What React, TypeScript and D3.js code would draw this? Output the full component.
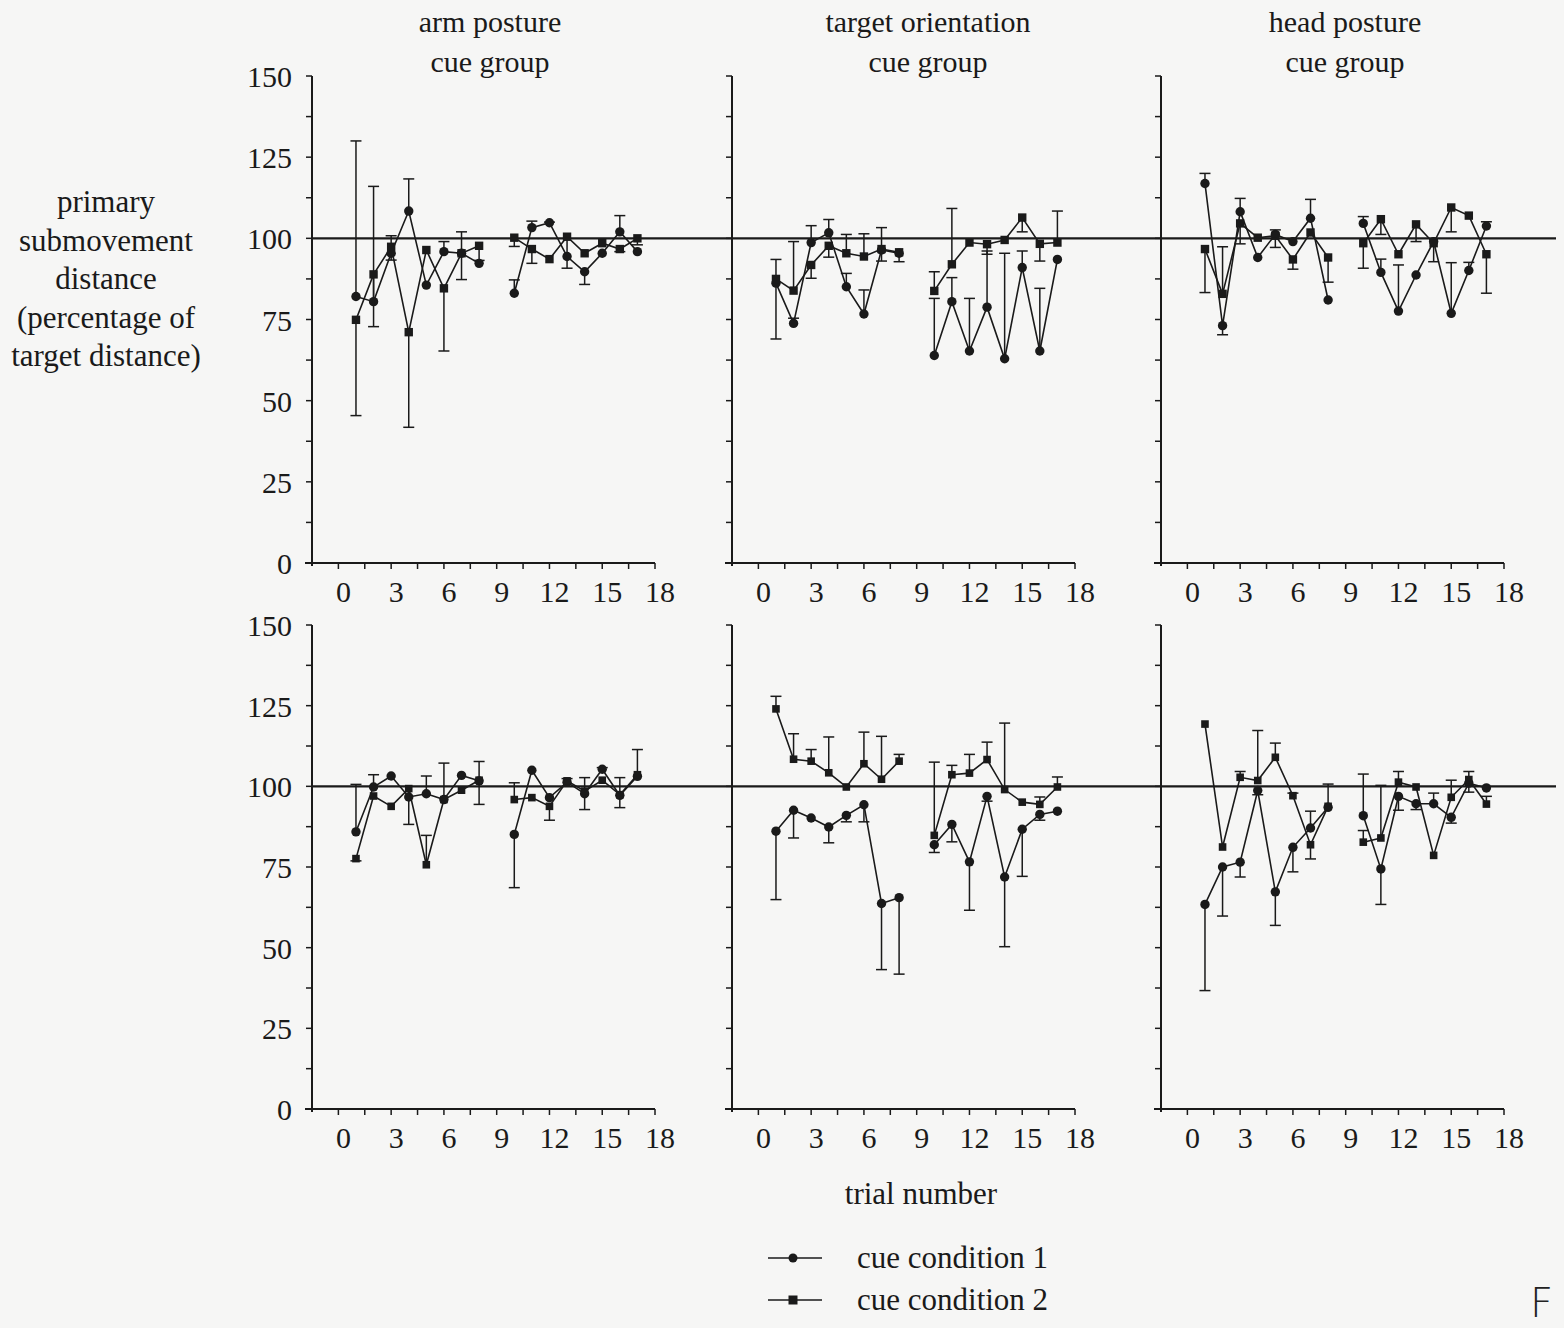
import React from 'react'
import * as d3 from 'd3'

// trial 9 is missing in every panel (null)
const trials = [1, 2, 3, 4, 5, 6, 7, 8, 9, 10, 11, 12, 13, 14, 15, 16, 17]
const xTicks = [0, 3, 6, 9, 12, 15, 18]
const yTicks = [0, 25, 50, 75, 100, 125, 150]
const groupTitles = [['arm posture', 'cue group'], ['target orientation', 'cue group'], ['head posture', 'cue group']]
const yLabelLines = ['primary', 'submovement', 'distance', '(percentage of', 'target distance)']
const legendLabels = ['cue condition 1', 'cue condition 2']

// top row, arm posture
const armTopC1 = [82.1, 80.5, 95.4, 108.4, 85.6, 95.9, 95.4, 92.3, null, 83.1, 103.3, 104.8, 94.4, 89.7, 95.4, 102, 95.9]
const armTopC2 = [74.9, 88.9, 97.4, 71.1, 96.4, 84.6, 95.4, 97.7, null, 100.2, 96.7, 93.6, 100.5, 95.4, 98.5, 96.7, 100]
const armTopE1 = [130, 116, 100.8, 118.3, null, 99, 102, null, null, 87.2, 105.3, 105, null, 85.8, null, 107, null]
const armTopE2 = [45.4, 72.8, 93.3, 41.8, null, 65.3, 87.3, 93.2, null, 97.5, 92.3, null, 90.8, null, null, 95.9, 98]
// top row, target orientation
const tarTopC1 = [86.2, 73.8, 98.7, 101.7, 85.1, 76.7, 96.4, 95.4, null, 63.9, 80.5, 65.3, 78.8, 62.9, 91, 65.3, 93.5]
const tarTopC2 = [87.5, 83.9, 91.8, 97.7, 95.4, 94.4, 96.7, 95.7, null, 83.8, 92, 98.7, 98.2, 99.5, 106.4, 98.3, 98.7]
const tarTopE1 = [69, 75.4, 103.9, 105.8, 89.2, 84.1, 103.3, null, null, 81.5, 87.9, 81.5, 96.1, 95.4, 96.1, 84.6, null]
const tarTopE2 = [93.5, 99, 87.7, 94.2, 101.2, 101.4, 93, 92.8, null, 89.7, 109.2, null, 95.1, null, 102, 93, 108.4]
// top row, head posture
const headTopC1 = [116.9, 73.1, 108.2, 94.1, 101.2, 99, 106.2, 81, null, 104.6, 89.5, 77.6, 88.7, 99, 76.9, 90.1, 103.8]
const headTopC2 = [96.7, 82.9, 104.6, 100.2, 100.8, 93.5, 101.8, 94.1, null, 98.5, 105.9, 95.1, 104.3, 98.5, 109.5, 107, 95.1]
const headTopE1 = [120, 70.3, 112.3, null, 97.2, null, 112, null, null, 106.7, 93.6, 91.8, null, null, 92.5, 92.6, 105.1]
const headTopE2 = [83.3, 97.4, 98.3, null, 102.6, 90.5, null, 86.5, null, 90.8, 101.2, null, 99, 92.8, 102, null, 83.1]
// bottom row, arm posture
const armBotC1 = [85.9, 99.8, 103.2, 96.7, 97.7, 95.9, 103.4, 101.7, null, 85.1, 105, 96.5, 101.3, 97.7, 105.3, 97.2, 103.1]
const armBotC2 = [77.6, 97, 93.8, 99.3, 75.7, 95.9, 98.8, 101.9, null, 95.9, 96.5, 93.8, 101.7, 98.5, 101.9, 97.4, 103.6]
const armBotE1 = [100.6, 103.6, null, null, 103.2, 107.2, null, 107.7, null, 68.6, null, null, 102.4, 102.7, 105.8, 102.7, null]
const armBotE2 = [76.9, null, null, 88.2, 84.8, null, null, 94.4, null, 101.1, null, 89.5, null, 92.8, null, 93.4, 111.4]
// bottom row, target orientation
const tarBotC1 = [86.1, 92.6, 90.2, 87.4, 91, 94.3, 63.7, 65.5, null, 81.9, 88.2, 76.6, 96.9, 71.9, 86.7, 91.3, 92.3]
const tarBotC2 = [124, 108.4, 107.8, 104.2, 99.8, 107, 102.2, 107.8, null, 84.8, 103.6, 104.1, 108.3, 99, 95.1, 94.4, 99.8]
const tarBotE1 = [64.9, 84, null, 82.5, 89, 89, 43.2, 41.8, null, 79.5, 82.8, 61.6, 95.4, 50.3, 72.1, 89.5, null]
const tarBotE2 = [127.9, 116.3, 111.4, 115.3, null, 116.8, 115.5, 109.9, null, 107.5, 106.5, 109.9, 113.7, 119.6, null, 96.7, 102.9]
// bottom row, head posture
const headBotC1 = [63.4, 75, 76.5, 98.7, 67.3, 81.1, 87.1, 93.5, null, 90.9, 74.4, 96.9, 94.6, 94.6, 90.4, 101, 99.5]
const headBotC2 = [119.3, 81.2, 102.8, 101.8, 109, 97.1, 81.9, 93.8, null, 82.7, 84, 101.3, 99.8, 78.6, 96.6, 102.1, 94.5]
const headBotE1 = [36.7, 59.8, 71.9, 97.4, 56.9, 73.5, 92.3, null, null, 103.8, 63.4, 92.6, 92.8, 97.9, 88.6, 98.2, null]
const headBotE2 = [null, null, 104.6, 117.3, 113.4, 97.9, 77.5, 100.7, null, 86.3, 100.3, 104.6, null, null, 101.9, 104.6, 96.9]

type Panel = { c1: (number | null)[]; c2: (number | null)[]; e1: (number | null)[]; e2: (number | null)[] }
const rows: Panel[][] = [
  [
    { c1: armTopC1, c2: armTopC2, e1: armTopE1, e2: armTopE2 },
    { c1: tarTopC1, c2: tarTopC2, e1: tarTopE1, e2: tarTopE2 },
    { c1: headTopC1, c2: headTopC2, e1: headTopE1, e2: headTopE2 },
  ],
  [
    { c1: armBotC1, c2: armBotC2, e1: armBotE1, e2: armBotE2 },
    { c1: tarBotC1, c2: tarBotC2, e1: tarBotE1, e2: tarBotE2 },
    { c1: headBotC1, c2: headBotC2, e1: headBotE1, e2: headBotE2 },
  ],
]

const W = 1564, H = 1328
const panelLeft = [312, 732, 1161]
const titleX = [490, 928, 1345]
const panelWidth = 343
const rowY = [[563, 76], [1109, 625]] // [y of 0, y of 150]
const font = '"Liberation Serif", "Times New Roman", serif'
const ink = '#1a1a1a'

const Series = ({ vals, errs, x, y, shape, size }: any) => {
  const line = d3.line<number | null>()
    .defined(d => d != null)
    .x((_, i) => x(trials[i]))
    .y(d => y(d as number))
  return (
    <g>
      <path d={line(vals) || ''} fill="none" stroke={ink} strokeWidth={1.6} />
      {errs.map((e: number | null, i: number) => {
        const v = vals[i]
        if (e == null || v == null) return null
        const cx = x(trials[i])
        return (
          <g key={'e' + i} stroke={ink} strokeWidth={1.5}>
            <line x1={cx} x2={cx} y1={y(v)} y2={y(e)} />
            <line x1={cx - 5.5} x2={cx + 5.5} y1={y(e)} y2={y(e)} />
          </g>
        )
      })}
      {vals.map((v: number | null, i: number) => {
        if (v == null) return null
        const cx = x(trials[i]), cy = y(v)
        return shape === 'circle'
          ? <circle key={i} cx={cx} cy={cy} r={size} fill={ink} />
          : <rect key={i} x={cx - size} y={cy - size} width={size * 2} height={size * 2} fill={ink} />
      })}
    </g>
  )
}

const App = () => {
  return (
    <svg width={W} height={H} style={{ position: 'absolute', left: 0, top: 0, display: 'block' }}
      fontFamily={font}>
      <rect width={W} height={H} fill="#f6f6f5" />
      {groupTitles.map((t, i) => (
        <g key={i} fill={ink} fontSize={30} textAnchor="middle">
          <text x={titleX[i]} y={32}>{t[0]}</text>
          <text x={titleX[i]} y={72}>{t[1]}</text>
        </g>
      ))}
      {yLabelLines.map((t, i) => (
        <text key={i} x={106} y={212 + i * 38.5} textAnchor="middle" fontSize={31} fill={ink}>{t}</text>
      ))}
      {rows.map((row, r) => {
        const y = d3.scaleLinear().domain([0, 150]).range(rowY[r])
        const yMinor = d3.range(0, 150.1, 12.5)
        return (
          <g key={r}>
            {row.map((p, c) => {
              const x = d3.scaleLinear().domain([-1.5, 18]).range([panelLeft[c], panelLeft[c] + panelWidth])
              const xMinor = d3.range(0, 18.1, 1.5)
              return (
                <g key={c}>
                  <line x1={x(-1.5)} x2={x(-1.5)} y1={y(0) + 3} y2={y(150)} stroke={ink} strokeWidth={2} />
                  <line x1={x(-1.5) - 7} x2={x(18)} y1={y(0)} y2={y(0)} stroke={ink} strokeWidth={2} />
                  {yMinor.map(v => (
                    <line key={v} x1={x(-1.5) - 6} x2={x(-1.5)} y1={y(v)} y2={y(v)} stroke={ink} strokeWidth={1.5} />
                  ))}
                  {xMinor.map(v => (
                    <line key={v} x1={x(v)} x2={x(v)} y1={y(0)} y2={y(0) + 6} stroke={ink} strokeWidth={1.5} />
                  ))}
                  {xTicks.map(v => (
                    <text key={v} x={x(v) + 5} y={y(0) + 39} textAnchor="middle" fontSize={30} fill={ink}>{v}</text>
                  ))}
                  {c === 0 && yTicks.map(v => (
                    <text key={v} x={292} y={y(v) + 11} textAnchor="end" fontSize={30} fill={ink}>{v}</text>
                  ))}
                  <Series vals={p.c1} errs={p.e1} x={x} y={y} shape="circle" size={4.7} />
                  <Series vals={p.c2} errs={p.e2} x={x} y={y} shape="square" size={r === 0 ? 4.2 : 3.8} />
                </g>
              )
            })}
            <line x1={panelLeft[0]} x2={1556} y1={y(100)} y2={y(100)} stroke={ink} strokeWidth={2.4} />
          </g>
        )
      })}
      <text x={921} y={1204} textAnchor="middle" fontSize={31} fill={ink}>trial number</text>
      {legendLabels.map((t, i) => (
        <g key={t}>
          <line x1={768} x2={822} y1={1258 + i * 42} y2={1258 + i * 42} stroke={ink} strokeWidth={1.6} />
          {i === 0
            ? <circle cx={793} cy={1258} r={4.5} fill={ink} />
            : <rect x={788.5} y={1295.5} width={9} height={9} fill={ink} />}
          <text x={857} y={1268 + i * 42} fontSize={31} fill={ink}>{t}</text>
        </g>
      ))}
      <text x={1530} y={1317} fontSize={40} fontFamily='"DejaVu Sans", sans-serif' fontWeight={200} fill="#222">F</text>
    </svg>
  )
}

export default App
